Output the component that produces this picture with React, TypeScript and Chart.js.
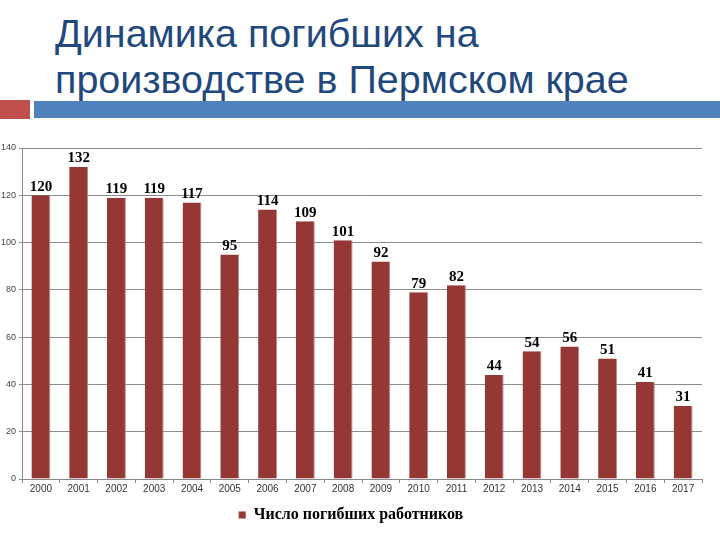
import React, { useEffect, useRef } from "react";
import { Chart, registerables } from "chart.js";

Chart.register(...registerables);

const titleLines = ["Динамика погибших на", "производстве в Пермском крае"];
const years = ["2000", "2001", "2002", "2003", "2004", "2005", "2006", "2007", "2008", "2009", "2010", "2011", "2012", "2013", "2014", "2015", "2016", "2017"];
const deaths = [120, 132, 119, 119, 117, 95, 114, 109, 101, 92, 79, 82, 44, 54, 56, 51, 41, 31];
const seriesLabel = "Число погибших работников";
const yTicks = [0, 20, 40, 60, 80, 100, 120, 140];

const barColor = "#953735";

const labelPlugin = {
  id: "valueLabels",
  afterDatasetsDraw(chart: any) {
    const ctx = chart.ctx;
    const meta = chart.getDatasetMeta(0);
    ctx.save();
    ctx.font = "bold 15px 'Liberation Serif', 'Times New Roman', serif";
    ctx.fillStyle = "#000";
    ctx.textAlign = "center";
    ctx.textBaseline = "bottom";
    meta.data.forEach((bar: any, i: number) => {
      ctx.fillText(String(chart.data.datasets[0].data[i]), bar.x, bar.y - 1);
    });
    ctx.restore();
  },
};

export default function App() {
  const ref = useRef<HTMLCanvasElement>(null);
  useEffect(() => {
    if (!ref.current) return;
    const chart = new Chart(ref.current, {
      type: "bar",
      data: {
        labels: years,
        datasets: [
          {
            label: seriesLabel,
            data: deaths,
            backgroundColor: barColor,
            borderColor: "#b88a8a",
            borderWidth: { right: 1, top: 0, left: 0, bottom: 0 } as any,
            categoryPercentage: 1,
            barPercentage: 0.5,
          },
        ],
      },
      options: {
        animation: false,
        responsive: false,
        maintainAspectRatio: false,
        layout: { padding: { top: 18, right: 18, left: 0, bottom: 0 } },
        plugins: {
          tooltip: { enabled: false },
          legend: {
            position: "bottom",
            labels: {
              boxWidth: 7,
              boxHeight: 7,
              padding: 4,
              color: "#000",
              font: { family: "'Liberation Serif', 'Times New Roman', serif", size: 16, weight: "bold" },
            },
          },
        },
        scales: {
          x: {
            grid: { offset: true, drawOnChartArea: false, tickLength: 4, color: "#888" },
            border: { color: "#888" },
            ticks: { color: "#333", font: { family: "'Liberation Sans', Arial, sans-serif", size: 10 }, padding: 0, maxRotation: 0 },
            afterFit(scale: any) { scale.height = 24; },
          },
          y: {
            min: 0,
            max: 140,
            afterBuildTicks(scale: any) { scale.ticks = yTicks.map((v) => ({ value: v })); },
            grid: { color: "#8c8c8c", tickLength: 3 },
            border: { color: "#888" },
            ticks: { color: "#444", font: { family: "'Liberation Sans', Arial, sans-serif", size: 9 }, padding: 3 },
            afterFit(scale: any) { scale.width = 22; },
          },
        },
      },
      plugins: [labelPlugin],
    });
    return () => chart.destroy();
  }, []);

  return (
    <div style={{ position: "absolute", left: 0, top: 0, width: 720, height: 540, background: "#fff", overflow: "hidden" }}>
      <div
        style={{
          position: "absolute",
          left: 55,
          top: 10,
          fontFamily: "'Liberation Sans', Arial, sans-serif",
          fontSize: 39.5,
          lineHeight: "46px",
          color: "#1F497D",
          whiteSpace: "nowrap",
        }}
      >
        {titleLines.map((l, i) => (
          <div key={i}>{l}</div>
        ))}
      </div>
      <div style={{ position: "absolute", left: 0, top: 100, width: 30, height: 19, background: "#C0504D" }} />
      <div style={{ position: "absolute", left: 34, top: 101, width: 686, height: 17, background: "#4F81BD" }} />
      <canvas ref={ref} width={720} height={403} style={{ position: "absolute", left: 0, top: 130 }} />
    </div>
  );
}
